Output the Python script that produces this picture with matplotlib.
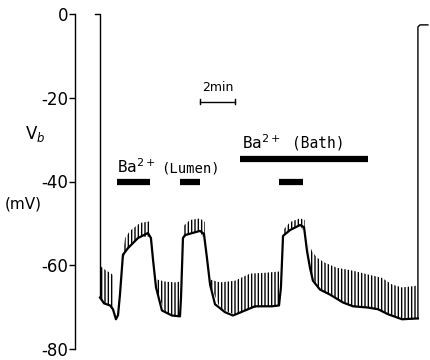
import numpy as np
import matplotlib
matplotlib.use("Agg")
import matplotlib.pyplot as plt

plt.rcParams["hatch.linewidth"] = 1.0

# trace (lower line): time in min, basolateral voltage in mV
trace_t = [-0.29, 0, 0, 0.23, 0.57, 0.74, 0.91, 1.03, 1.14, 1.31, 1.6, 2.17, 2.74,
           2.91, 3.03, 3.2, 3.54, 4.11, 4.57, 4.63, 4.74, 4.86, 5.71, 5.94, 6.11,
           6.29, 6.57, 7.14, 7.6, 8.29, 8.86, 9.83, 10.23, 10.34, 10.46, 10.86,
           11.43, 11.66, 11.83, 12.0, 12.17, 12.57, 13.14, 13.89, 14.46, 15.31,
           15.89, 16.46, 17.26, 18.17, 18.17, 18.29, 18.74]
trace_v = [0, 0, -67.7, -69.1, -69.6, -70.5, -72.9, -71.9, -67.0, -57.5, -55.9,
           -53.5, -52.3, -53.5, -58.7, -65.3, -70.8, -72.0, -72.2, -67.7, -53.5,
           -52.8, -51.8, -52.5, -58.2, -64.6, -69.3, -71.2, -72.0, -70.8, -69.8,
           -69.8, -69.6, -65.3, -53.0, -51.6, -50.4, -50.9, -56.6, -60.6, -63.7,
           -65.8, -67.0, -68.9, -69.8, -70.1, -70.5, -71.7, -72.9, -72.7, -3.1,
           -2.6, -2.6]

# tops of the current-pulse deflections, one list per stretch
pulse_t = [
    [0, 0.29, 0.57, 0.8],
    [1.26, 1.43, 1.71, 2.29, 2.86],
    [3.26, 3.71, 4.29, 4.57],
    [4.74, 5.14, 5.71, 6.0],
    [6.29, 6.86, 7.71, 8.57, 9.43, 10.23],
    [10.46, 10.86, 11.43, 11.71],
    [11.94, 12.11, 12.4, 12.86, 13.54, 14.46, 15.31, 16.11, 16.69, 17.26, 18.06],
]
pulse_v = [
    [-60.1, -61.1, -61.8, -62.5],
    [-58.7, -53.5, -51.8, -49.9, -49.5],
    [-63.4, -63.9, -64.1, -63.9],
    [-50.7, -49.2, -48.8, -49.7],
    [-63.4, -64.1, -63.7, -62.0, -61.8, -61.5],
    [-51.6, -49.7, -48.8, -49.2],
    [-54.7, -56.6, -58.2, -59.4, -60.6, -61.3, -62.2, -63.0, -64.6, -65.3, -64.9],
]

# Ba2+ application periods (min)
lumen_on = [0.97, 4.57, 10.23]
lumen_off = [2.86, 5.71, 11.6]
bath_on, bath_off = 8.0, 15.31

fig = plt.figure(figsize=(4.3, 3.6), dpi=100)
ax = fig.add_axes([75 / 430, 11 / 360, 1 - 75 / 430, 335 / 360])

# thin start / end jumps, thick recording line in between
ax.plot(trace_t[:3], trace_v[:3], color="black", lw=1, clip_on=False)
ax.plot(trace_t[49:], trace_v[49:], color="black", lw=1, clip_on=False)
ax.plot(trace_t[2:50], trace_v[2:50], color="black", lw=1.6, solid_joinstyle="round")
for ts, vs in zip(pulse_t, pulse_v):
    base = np.interp(ts, trace_t[2:50], trace_v[2:50])
    ax.fill_between(ts, base, vs, facecolor="none", edgecolor="black",
                    hatch="|||||", linewidth=0)

ax.hlines([-40.2] * 3, lumen_on, lumen_off, color="black", lw=4.5)
ax.hlines(-34.6, bath_on, bath_off, color="black", lw=4.5)

mono = "DejaVu Sans Mono"
ax.text(0.97, -36.5, "Ba$^{2+}$", fontsize=11.5, family=mono, va="center")
ax.text(3.5, -37.0, "(Lumen)", fontsize=10, family=mono, va="center")
ax.text(8.1, -30.8, "Ba$^{2+}$", fontsize=11.5, family=mono, va="center")
ax.text(11.0, -30.8, "(Bath)", fontsize=10.5, family=mono, va="center")

# 2 min scale bar
ax.plot([5.71, 7.71], [-21.0, -21.0], color="black", lw=1)
ax.plot([5.71, 5.71], [-20.4, -21.6], color="black", lw=1)
ax.plot([7.71, 7.71], [-20.4, -21.6], color="black", lw=1)
ax.text(6.75, -17.6, "2min", fontsize=9, ha="center", va="center")

ax.set_xlim(-1.43, 18.86)
ax.set_ylim(-80, 0)
ax.set_yticks([0, -20, -40, -60, -80])
ax.set_yticklabels(["0", "-20", "-40", "-60", "-80"])
ax.tick_params(axis="y", direction="out", length=4, width=1, pad=1, labelsize=12)
ax.set_xticks([])
for s in ["top", "right", "bottom"]:
    ax.spines[s].set_visible(False)
ax.spines["left"].set_linewidth(1)

fig.text(35 / 430, 1 - 134 / 360, "V$_b$", fontsize=12, ha="center", va="center")
fig.text(23 / 430, 1 - 204 / 360, "(mV)", fontsize=11, ha="center", va="center")

fig.savefig("out.png", dpi=100)
